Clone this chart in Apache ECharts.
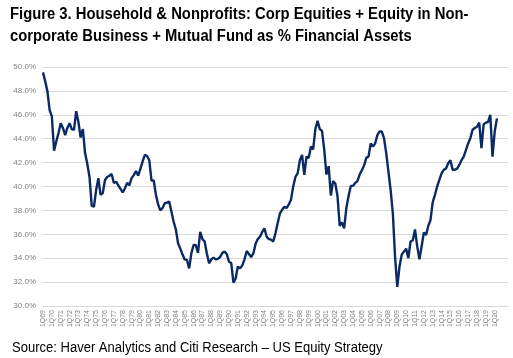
<!DOCTYPE html>
<html>
<head>
<meta charset="utf-8">
<script src="https://cdn.jsdelivr.net/npm/echarts@6/dist/echarts.min.js"></script>
<style>
html,body{margin:0;padding:0;background:#fff;}
#chart{width:513px;height:358px;}
</style>
</head>
<body>
<div id="chart"></div>
<script>
// Quarterly series, 1Q69 .. 2Q20 (% of financial assets)
const startYear = 1969;
const values = [
49.55,48.8,47.96,46.4,45.86,43.0,43.77,44.47,45.3,44.9,
44.3,44.9,45.3,44.8,44.75,46.3,45.4,44.1,44.8,42.8,
41.9,40.8,38.4,38.3,39.7,40.7,39.3,39.45,40.55,40.8,
40.9,41.05,40.3,40.4,40.1,39.8,39.5,39.85,40.3,40.1,
40.7,40.95,41.3,40.9,41.5,42.1,42.65,42.55,42.2,40.5,
40.5,39.3,38.5,38.0,38.2,38.6,38.65,38.75,37.9,37.05,
36.4,35.25,34.8,34.3,33.9,33.85,33.15,34.4,35.1,35.1,
34.45,36.2,35.6,35.4,34.4,33.57,33.9,34.05,33.9,33.95,
34.1,34.45,34.55,34.35,33.7,33.6,31.95,32.3,33.3,33.15,
33.4,33.9,34.6,34.35,34.1,34.4,35.2,35.6,35.8,36.2,
36.5,35.8,35.6,35.55,35.4,36.1,36.95,37.75,38.05,38.3,
38.2,38.5,38.9,40.0,40.8,41.1,42.2,42.65,40.97,42.5,
42.4,43.35,43.1,44.8,45.5,44.8,44.65,43.1,41.0,41.7,
39.25,40.45,40.25,39.2,36.7,37.0,36.5,38.2,39.2,40.05,
40.05,40.3,40.45,41.0,41.35,41.75,42.4,42.5,43.6,43.35,
43.6,44.3,44.6,44.6,44.05,42.8,41.25,39.7,37.75,34.1,
31.6,33.3,34.3,34.55,34.8,34.0,35.4,35.5,36.4,35.0,
33.9,35.0,36.15,35.95,36.7,37.2,38.7,39.3,40.0,40.55,
41.1,41.4,41.5,41.95,42.2,41.4,41.4,41.5,41.8,42.2,
42.5,43.05,43.6,44.05,44.75,44.9,45.0,45.35,43.2,45.2,
45.35,45.4,46.0,42.5,44.6,45.7
];
const padSlots = 5; // empty category slots at the right end of the axis
const yTicks = { min: 30, max: 50, step: 2 };
const titleLines = [
  'Figure 3. Household & Nonprofits: Corp Equities + Equity in Non-',
  'corporate Business + Mutual Fund as % Financial Assets'
];
const sourceText = 'Source: Haver Analytics and Citi Research \u2013 US Equity Strategy';

const categories = [];
for (let i = 0; i < values.length; i++) {
  const y = startYear + Math.floor(i / 4);
  categories.push((i % 4 + 1) + 'Q' + String(y % 100).padStart(2, '0'));
}
for (let k = 0; k < padSlots; k++) categories.push('');

const FONT = '"Liberation Sans", Arial, sans-serif';
function txt(text, x, y, font, sx) {
  return {
    type: 'text', x: x, y: y, scaleX: sx, scaleY: 1,
    style: { text: text, font: font, fill: '#000000', textVerticalAlign: 'middle', textAlign: 'left' }
  };
}

const chart = echarts.init(document.getElementById('chart'), null, {renderer: 'canvas'});
chart.setOption({
  animation: false,
  backgroundColor: '#ffffff',
  graphic: [
    txt(titleLines[0], 10, 15, 'bold 16px ' + FONT, 0.925),
    txt(titleLines[1], 10, 37, 'bold 16px ' + FONT, 0.925),
    txt(sourceText, 12, 348, '14px ' + FONT, 0.93)
  ],
  grid: { left: 43, right: 5, top: 67, bottom: 52, containLabel: false },
  xAxis: {
    type: 'category',
    data: categories,
    boundaryGap: false,
    axisLine: { show: true, lineStyle: { color: '#d9d9d9', width: 1 } },
    axisTick: { show: false },
    splitLine: { show: false },
    axisLabel: {
      interval: function (idx, val) { return val !== '' && idx % 4 === 0; },
      rotate: 90, fontSize: 7, color: '#7f7f7f', margin: 4,
      fontFamily: FONT
    }
  },
  yAxis: {
    type: 'value',
    min: yTicks.min, max: yTicks.max, interval: yTicks.step,
    axisLine: { show: false },
    axisTick: { show: false },
    splitLine: { show: true, lineStyle: { color: '#d9d9d9', width: 1 } },
    axisLabel: {
      formatter: function (v) { return v.toFixed(1) + '%'; },
      fontSize: 8, color: '#7f7f7f', margin: 7,
      fontFamily: FONT
    }
  },
  series: [{
    type: 'line',
    data: values,
    showSymbol: false,
    symbol: 'none',
    lineStyle: { color: '#0b2a63', width: 2.4 },
    itemStyle: { color: '#0b2a63' }
  }]
});
</script>
</body>
</html>
